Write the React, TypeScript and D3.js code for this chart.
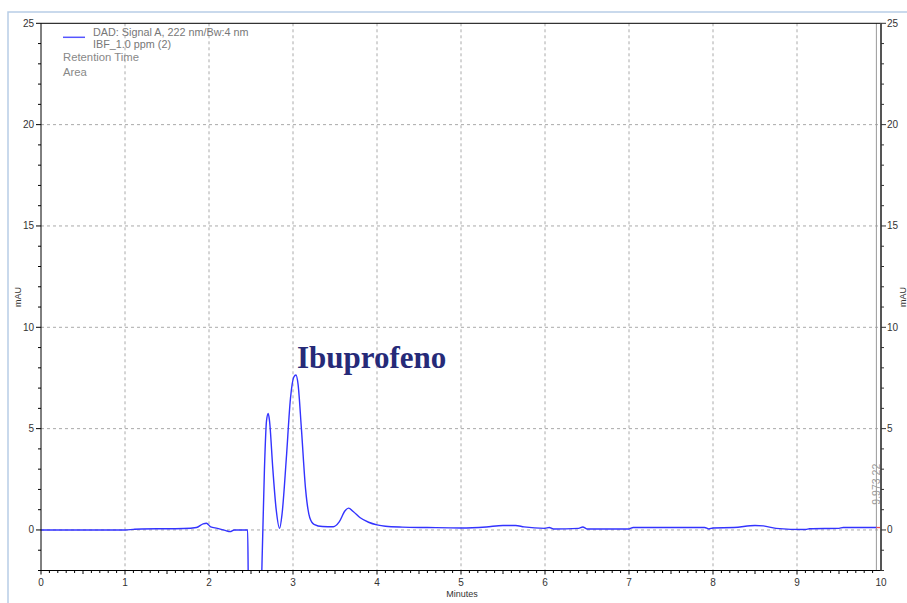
import React from 'react';
import * as d3 from 'd3';

const times = [0, 1.0, 1.1, 1.2, 1.5, 1.7, 1.85, 1.93, 1.97, 2.02, 2.1, 2.2, 2.25, 2.3, 2.46, 2.47, 2.62, 2.635, 2.66, 2.685, 2.705, 2.72, 2.76, 2.8, 2.84, 2.87, 2.92, 2.97, 3.01, 3.035, 3.06, 3.1, 3.15, 3.2, 3.25, 3.35, 3.48, 3.55, 3.62, 3.66, 3.72, 3.8, 3.9, 4.0, 4.1, 4.3, 4.6, 5.0, 5.3, 5.5, 5.65, 5.75, 6.0, 6.05, 6.1, 6.4, 6.45, 6.5, 7.0, 7.05, 7.9, 7.95, 8.0, 8.25, 8.5, 8.6, 8.75, 9.1, 9.15, 9.5, 9.55, 9.945];
const signal = [0, 0, 0.03, 0.05, 0.06, 0.07, 0.12, 0.3, 0.33, 0.15, 0.08, -0.03, -0.08, 0.0, 0.0, -3.0, -3.0, -1.0, 3.0, 5.4, 5.75, 5.4, 3.0, 1.0, 0.08, 0.8, 3.5, 6.5, 7.55, 7.65, 7.2, 5.0, 2.0, 0.6, 0.28, 0.17, 0.16, 0.4, 0.95, 1.08, 0.9, 0.6, 0.38, 0.25, 0.18, 0.14, 0.12, 0.1, 0.15, 0.22, 0.22, 0.15, 0.08, 0.12, 0.05, 0.08, 0.15, 0.05, 0.05, 0.12, 0.12, 0.05, 0.1, 0.12, 0.22, 0.2, 0.08, 0.02, 0.06, 0.08, 0.12, 0.12];
const xTicks = [0, 1, 2, 3, 4, 5, 6, 7, 8, 9, 10];
const yTicks = [0, 5, 10, 15, 20, 25];
const legendLines = ['DAD: Signal A, 222 nm/Bw:4 nm', 'IBF_1.0 ppm (2)'];
const legendExtra = ['Retention Time', 'Area'];
const peakLabel = 'Ibuprofeno';
const stopLabel = '9.973 22';
const stopTime = [9.945];

const W = 907, H = 603;
const L = 41, R = 881, T = 23.3, B = 570.5;
const FONT = 'Liberation Sans, Arial, sans-serif';

export default function App() {
  const x = d3.scaleLinear().domain([0, 10]).range([L, R]);
  const y = d3.scaleLinear().domain([-2, 25]).range([B, T]);
  const pts: [number, number][] = times.map((t, i) => [t, signal[i]]);
  const line = d3.line<[number, number]>().x(d => x(d[0])).y(d => y(d[1])).curve(d3.curveMonotoneX);
  const minorX = d3.range(0, 100).map(i => i / 10);
  const minorY = d3.range(-2, 26);
  const xs = x(stopTime[0]);
  const lastV = signal[signal.length - 1];
  return (
    <svg width={W} height={H} style={{ position: 'absolute', left: 0, top: 0, background: '#fff' }} fontFamily={FONT}>
      <defs>
        <clipPath id="plot"><rect x={L} y={T} width={R - L} height={B - T} /></clipPath>
      </defs>
      <rect x={8} y={12} width={W + 20} height={H + 20} fill="none" stroke="#b8cde6" strokeWidth={1.5} />
      {/* grid */}
      {xTicks.slice(1, -1).map(t => (
        <line key={'gx' + t} x1={x(t)} x2={x(t)} y1={T} y2={B} stroke="#aaa" strokeDasharray="3,3" />
      ))}
      {yTicks.slice(0, -1).map(t => (
        <line key={'gy' + t} x1={L} x2={R} y1={y(t)} y2={y(t)} stroke="#aaa" strokeDasharray="3,3" />
      ))}
      {/* stop marker */}
      <line x1={xs} x2={xs} y1={T} y2={B} stroke="#999" strokeWidth={1} />
      <text transform={`translate(${xs + 3.5},${y(1.25)}) rotate(-90)`} fontSize={10.5} fill="#999">{stopLabel}</text>
      {/* signal */}
      <g clipPath="url(#plot)">
        <path d={line(pts) || ''} fill="none" stroke="#3333ff" strokeWidth={1.4} />
      </g>
      <line x1={xs} x2={R} y1={y(lastV)} y2={y(lastV)} stroke="#f05050" strokeWidth={1.3} />
      {/* axes frame */}
      <line x1={L} x2={R} y1={T} y2={T} stroke="#000" strokeWidth={1} />
      <line x1={L} x2={L} y1={T} y2={B} stroke="#000" strokeWidth={1} />
      <line x1={L} x2={R} y1={B} y2={B} stroke="#000" strokeWidth={1} />
      <line x1={R} x2={R} y1={T} y2={B} stroke="#555" strokeWidth={2} />
      {/* x ticks */}
      {minorX.map(t => {
        const isMaj = Math.abs(t - Math.round(t)) < 1e-6;
        const isHalf = Math.abs(t * 2 - Math.round(t * 2)) < 1e-6;
        return <line key={'mx' + t} x1={x(t)} x2={x(t)} y1={B} y2={B + (isMaj ? 4 : isHalf ? 3.5 : 2.5)} stroke="#000" />;
      })}
      {xTicks.map(t => (
        <text key={'xl' + t} x={x(t)} y={586} fontSize={10} textAnchor="middle" fill="#333">{t}</text>
      ))}
      <text x={462} y={597} fontSize={9} textAnchor="middle" fill="#333">Minutes</text>
      {/* y ticks left & right */}
      {minorY.map(v => {
        const maj = v % 5 === 0;
        return (
          <g key={'my' + v}>
            <line x1={L - (maj ? 5 : 3)} x2={L} y1={y(v)} y2={y(v)} stroke="#000" />
            <line x1={R} x2={R + (maj ? 5 : 3)} y1={y(v)} y2={y(v)} stroke="#333" />
          </g>
        );
      })}
      {yTicks.map(v => (
        <g key={'yl' + v}>
          <text x={34} y={y(v) + 3.5} fontSize={10} textAnchor="end" fill="#333">{v}</text>
          <text x={887} y={y(v) + 3.5} fontSize={10} textAnchor="start" fill="#333">{v}</text>
        </g>
      ))}
      <text transform={`translate(21,${y(11.5)}) rotate(-90)`} fontSize={9} textAnchor="middle" fill="#333">mAU</text>
      <text transform={`translate(906,${y(11.5)}) rotate(-90)`} fontSize={9} textAnchor="middle" fill="#333">mAU</text>
      {/* legend */}
      <line x1={63} x2={85} y1={37.3} y2={37.3} stroke="#5555ff" strokeWidth={1.5} />
      {legendLines.map((s, i) => (
        <text key={'lg' + i} x={93} y={35.5 + i * 12} fontSize={10.8} fill="#777">{s}</text>
      ))}
      {legendExtra.map((s, i) => (
        <text key={'le' + i} x={63} y={61 + i * 15} fontSize={11.3} fill="#888">{s}</text>
      ))}
      {/* peak label */}
      <text x={297} y={368} fontFamily="Liberation Serif, Times New Roman, serif" fontWeight="bold" fontSize={31} fill="#262a78">{peakLabel}</text>
    </svg>
  );
}
